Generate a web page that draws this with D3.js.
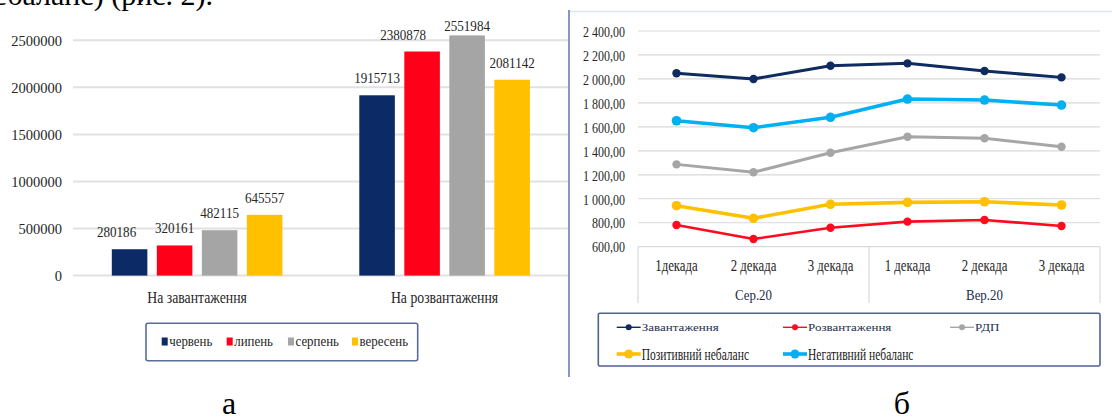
<!DOCTYPE html>
<html><head><meta charset="utf-8">
<script src="https://cdn.jsdelivr.net/npm/d3@7"></script>
<style>html,body{margin:0;padding:0;background:#fff;}svg{display:block;}</style>
</head><body>
<svg id="c" width="1112" height="419"></svg>
<script>
// ---------- data: chart "а" ----------
const barCategories = ["На завантаження", "На розвантаження"];
const barSeriesNames = ["червень", "липень", "серпень", "вересень"];
const june = [280186, 1915713];
const july = [320161, 2380878];
const august = [482115, 2551984];
const september = [645557, 2081142];
const barTicks = [0, 500000, 1000000, 1500000, 2000000, 2500000];

// ---------- data: chart "б" ----------
const decades = ["1декада", "2 декада", "3 декада", "1 декада", "2 декада", "3 декада"];
const periods = ["Сер.20", "Вер.20"];
const lineSeriesNames = ["Завантаження", "Розвантаження", "РДП", "Позитивний небаланс", "Негативний небаланс"];
const loading = [2047, 2000, 2110, 2130, 2066, 2013];
const unloading = [781, 664, 758, 809, 823, 773];
const rdp = [1287, 1221, 1384, 1518, 1505, 1434];
const positiveImbalance = [942, 837, 954, 970, 975, 948];
const negativeImbalance = [1651, 1593, 1680, 1832, 1824, 1782];
const lineTicks = [600, 800, 1000, 1200, 1400, 1600, 1800, 2000, 2200, 2400];

// ---------- drawing ----------
const svg = d3.select("#c");
svg.append("rect").attr("width", 1112).attr("height", 419).attr("fill", "#fff");
const serif = "'Liberation Serif','Times New Roman',serif";
const txt = "#262626";
function condense(sel, f) {
  sel.each(function () {
    const L = this.getComputedTextLength();
    this.setAttribute("textLength", L * f);
    this.setAttribute("lengthAdjust", "spacingAndGlyphs");
  });
}

// cut-off text line at the top (continuation of the page text)
svg.append("text").attr("x", 213).attr("y", 5).attr("text-anchor", "end")
  .attr("font-family", serif).attr("font-size", 30).attr("fill", "#000")
  .text("небаланс) (рис. 2).");

// ===== Chart а =====
const barColors = ["#0b2a66", "#ff0019", "#a5a5a5", "#ffc000"];
const barSeries = [june, july, august, september];
const yB = d3.scaleLinear().domain([0, 2500000]).range([275.6, 40.3]);
const x0 = d3.scaleBand().domain(barCategories).range([73.3, 568.3]);
const x1 = d3.scaleBand().domain(barSeriesNames).range([38.5, 209.1]).paddingInner(0.21);

const gA = svg.append("g");
gA.selectAll("line.grid").data(barTicks).join("line")
  .attr("x1", 73).attr("x2", 568)
  .attr("y1", d => yB(d)).attr("y2", d => yB(d))
  .attr("stroke", "#e1e1e1").attr("stroke-width", 2);

const yAxisA = d3.axisLeft(yB).tickValues(barTicks).tickSize(0).tickPadding(0).tickFormat(d3.format("d"));
const ya = gA.append("g").attr("transform", "translate(62,0)").call(yAxisA);
ya.select(".domain").remove();
ya.selectAll("text").attr("font-family", serif).attr("font-size", 14.5).attr("fill", txt).attr("dy", "0.35em");

const labelNudge = [[-13, 0], [0, -19], [0, 0], [0, 0]];
barSeries.forEach((vals, si) => {
  const g = gA.append("g");
  g.selectAll("rect").data(vals).join("rect")
    .attr("x", (d, i) => x0(barCategories[i]) + x1(barSeriesNames[si]))
    .attr("y", d => yB(d))
    .attr("width", x1.bandwidth())
    .attr("height", d => yB(0) - yB(d))
    .attr("fill", barColors[si]);
  g.selectAll("text").data(vals).join("text")
    .attr("x", (d, i) => x0(barCategories[i]) + x1(barSeriesNames[si]) + x1.bandwidth() / 2 + labelNudge[si][i])
    .attr("y", d => Math.max(yB(d) - 12, 31))
    .attr("text-anchor", "middle")
    .attr("font-family", serif).attr("font-size", 14.5).attr("fill", txt)
    .text(d => d)
    .call(condense, 0.9);
});

gA.selectAll("text.cat").data(barCategories).join("text")
  .attr("class", "cat")
  .attr("x", d => x0(d) + x0.bandwidth() / 2).attr("y", 303)
  .attr("text-anchor", "middle").attr("font-family", serif).attr("font-size", 16).attr("fill", txt)
  .text(d => d).call(condense, 0.86);

// legend а
gA.append("rect").attr("x", 146).attr("y", 323.3).attr("width", 271.7).attr("height", 37.4)
  .attr("rx", 2).attr("fill", "#fff").attr("stroke", "#5a6d98").attr("stroke-width", 1.6);
const legAx = [161.7, 226.7, 288, 352];
barSeriesNames.forEach((n, i) => {
  gA.append("rect").attr("x", legAx[i]).attr("y", 337.5).attr("width", 6).attr("height", 8).attr("fill", barColors[i]);
  gA.append("text").attr("x", legAx[i] + 7.5).attr("y", 346).attr("font-family", serif)
    .attr("font-size", 15).attr("fill", txt).text(n).call(condense, 0.86);
});

svg.append("text").attr("x", 229).attr("y", 414).attr("text-anchor", "middle")
  .attr("font-family", serif).attr("font-size", 32).attr("fill", "#000").text("а");

// ===== Chart б =====
const gB = svg.append("g");
gB.append("rect").attr("x", 568).attr("y", 11).attr("width", 544).attr("height", 366).attr("fill", "#fff");
gB.append("line").attr("x1", 568.5).attr("x2", 1112).attr("y1", 11.5).attr("y2", 11.5)
  .attr("stroke", "#dce6f3").attr("stroke-width", 1.5);
gB.append("line").attr("x1", 569).attr("x2", 569).attr("y1", 10).attr("y2", 377)
  .attr("stroke", "#8797bf").attr("stroke-width", 2);

const yL = d3.scaleLinear().domain([600, 2400]).range([246.7, 31]);
const xL = d3.scaleBand().domain(d3.range(decades.length)).range([638, 1100]);
gB.selectAll("line.grid").data(lineTicks).join("line")
  .attr("x1", 638).attr("x2", 1100)
  .attr("y1", d => yL(d)).attr("y2", d => yL(d))
  .attr("stroke", "#d9d9d9").attr("stroke-width", 1.2);

const fmt = d3.formatLocale({ decimal: ",", thousands: " ", grouping: [3], currency: ["", ""] }).format(",.2f");
const yAxisB = d3.axisLeft(yL).tickValues(lineTicks).tickSize(0).tickPadding(0).tickFormat(fmt);
const yb = gB.append("g").attr("transform", "translate(625,0)").call(yAxisB);
yb.select(".domain").remove();
yb.selectAll("text").attr("font-family", serif).attr("font-size", 15).attr("fill", txt).attr("dy", "0.35em")
  .call(condense, 0.8);

// category axis (two levels)
const sepX = [xL(0), xL(3), xL(5) + xL.bandwidth()];
gB.selectAll("line.sep").data(sepX).join("line")
  .attr("x1", d => d).attr("x2", d => d).attr("y1", yL(600)).attr("y2", 303)
  .attr("stroke", "#d9d9d9").attr("stroke-width", 1.2);
gB.selectAll("text.dec").data(decades).join("text")
  .attr("x", (d, i) => xL(i) + xL.bandwidth() / 2).attr("y", 271)
  .attr("text-anchor", "middle").attr("font-family", serif).attr("font-size", 16).attr("fill", txt)
  .text(d => d).call(condense, 0.8);
gB.selectAll("text.per").data(periods).join("text")
  .attr("x", (d, i) => (sepX[i] + sepX[i + 1]) / 2).attr("y", 300)
  .attr("text-anchor", "middle").attr("font-family", serif).attr("font-size", 14).attr("fill", "#1c2a4a")
  .text(d => d).call(condense, 0.92);

const lineStyles = [
  { data: loading, color: "#0f2b60", w: 3, r: 4.2 },
  { data: unloading, color: "#ff0a1e", w: 2.6, r: 4.2 },
  { data: rdp, color: "#a6a6a6", w: 3, r: 4.2 },
  { data: positiveImbalance, color: "#ffc000", w: 3.6, r: 4.8 },
  { data: negativeImbalance, color: "#00b0f0", w: 3.6, r: 4.8 }
];
const lineGen = d3.line().x((d, i) => xL(i) + xL.bandwidth() / 2).y(d => yL(d));
lineStyles.forEach(s => {
  gB.append("path").attr("d", lineGen(s.data)).attr("fill", "none")
    .attr("stroke", s.color).attr("stroke-width", s.w).attr("stroke-linejoin", "round");
  gB.append("g").selectAll("circle").data(s.data).join("circle")
    .attr("cx", (d, i) => xL(i) + xL.bandwidth() / 2).attr("cy", d => yL(d)).attr("r", s.r)
    .attr("fill", s.color);
});

// legend б
gB.append("rect").attr("x", 598.3).attr("y", 313.3).attr("width", 501.7).attr("height", 52.7)
  .attr("rx", 1.5).attr("fill", "#fff").attr("stroke", "#4e6191").attr("stroke-width", 1.6);
const legPos = [[616.7, 327.3], [783, 327.3], [950, 327.3], [616.7, 354], [783, 354]];
lineSeriesNames.forEach((n, i) => {
  const [lx, ly] = legPos[i];
  const s = lineStyles[i];
  const big = i >= 3;
  gB.append("line").attr("x1", lx).attr("x2", lx + 24).attr("y1", ly).attr("y2", ly)
    .attr("stroke", s.color).attr("stroke-width", big ? 3.6 : 1.4);
  gB.append("circle").attr("cx", lx + 12).attr("cy", ly).attr("r", big ? 4.5 : 3).attr("fill", s.color);
  const t = gB.append("text").attr("x", lx + 25).attr("y", ly + (big ? 5.5 : 3.5))
    .attr("font-family", serif).attr("fill", big ? "#1a1a1a" : "#26314f")
    .attr("font-size", big ? 16 : 10).text(n);
  t.call(condense, big ? 0.72 : 1.3);
});

svg.append("text").attr("x", 902).attr("y", 414).attr("text-anchor", "middle")
  .attr("font-family", serif).attr("font-size", 32).attr("fill", "#000").text("б");
</script>
</body></html>
